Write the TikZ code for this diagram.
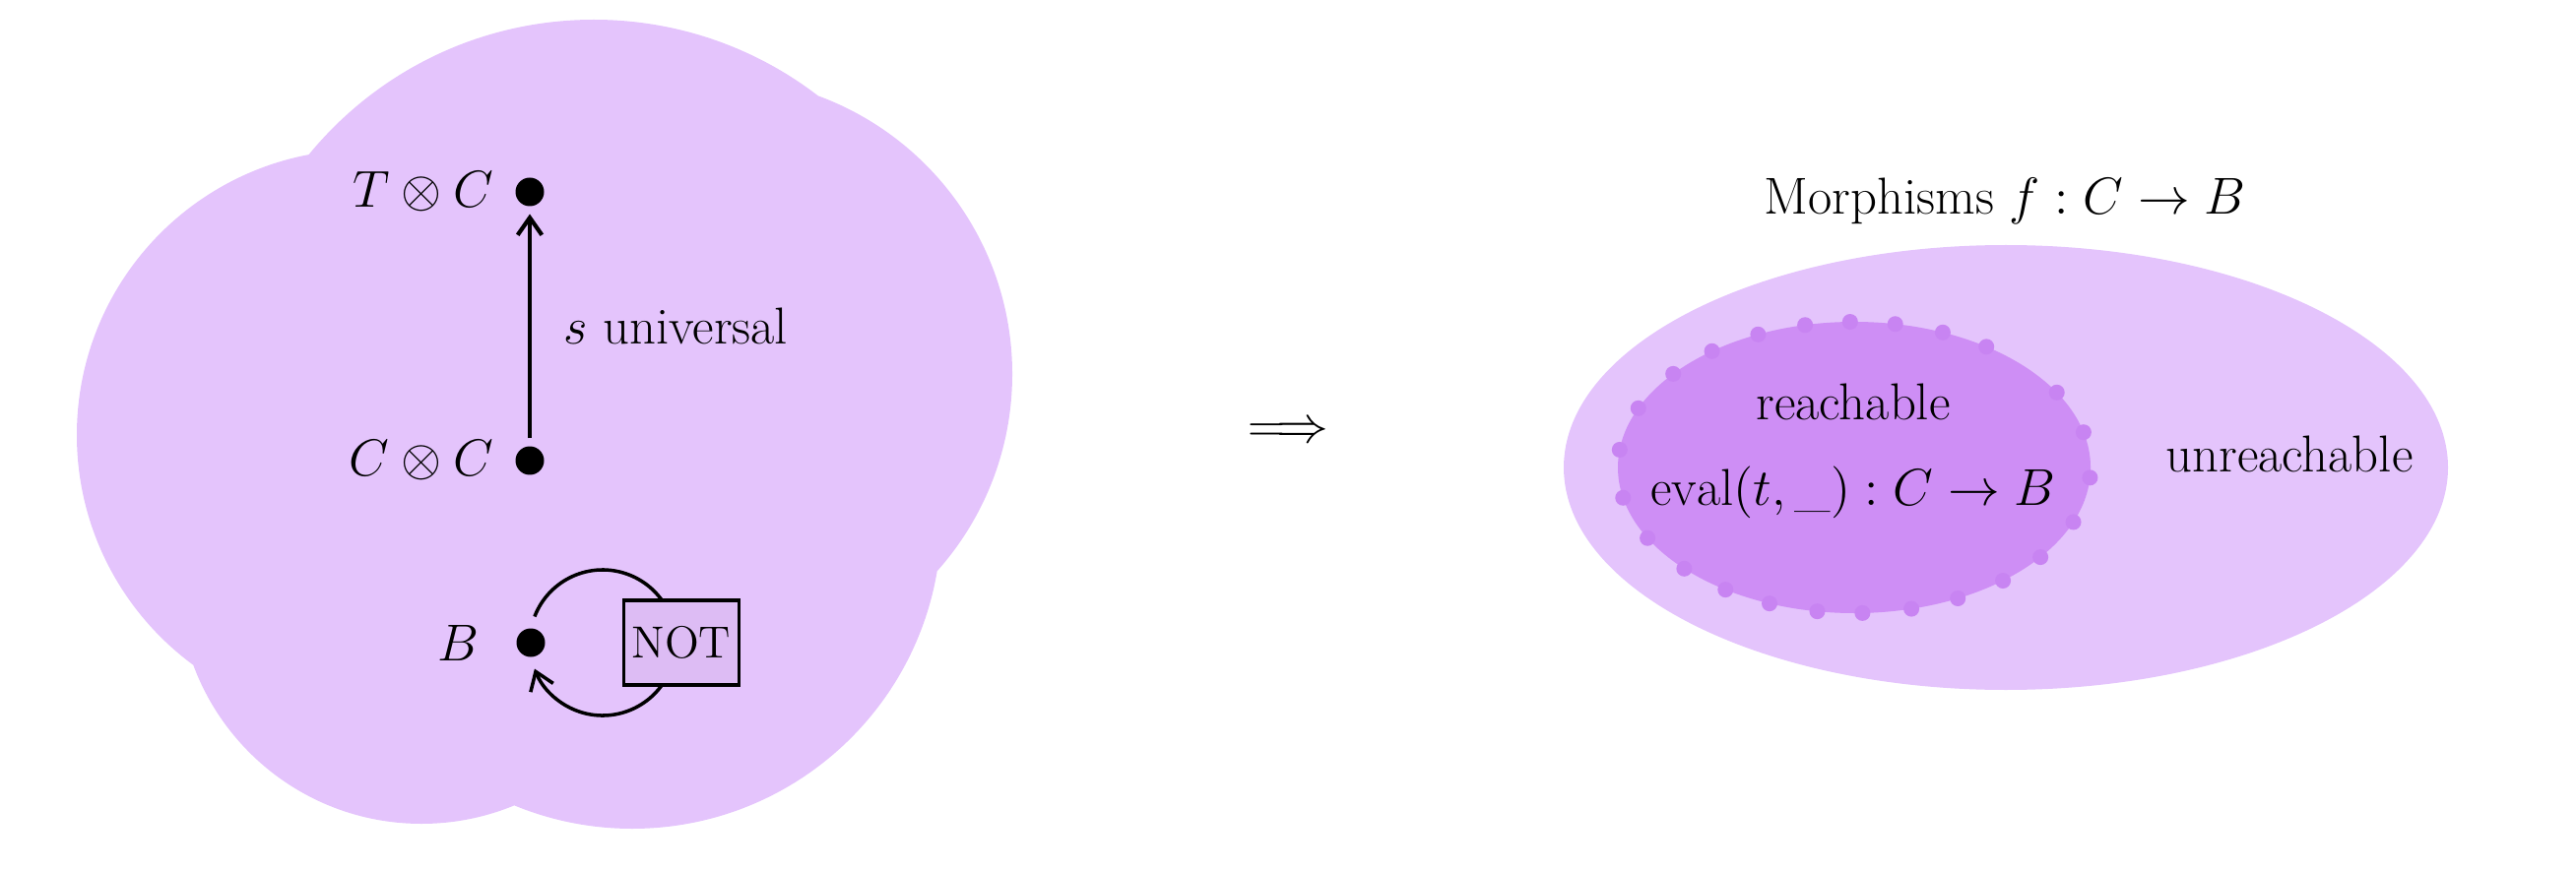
\RequirePackage{fix-cm}
\documentclass[tikz,border=0pt]{standalone}
\usepackage{amsmath,amssymb}
\usepackage{fontspec}
\usepackage{tikz}
\usetikzlibrary{arrows.meta,positioning,calc,shapes.geometric}
\definecolor{cloudlilac}{RGB}{228,196,252}
\definecolor{reachlilac}{RGB}{206,142,245}
\definecolor{beadlilac}{RGB}{200,132,242}
\definecolor{gatelilac}{RGB}{221,188,244}

\begin{document}
\begin{tikzpicture}[
    every node/.style={font=\fontsize{15}{18}\selectfont, inner sep=0pt},
    objdot/.style={circle, fill=black, minimum size=0.29cm, outer sep=0.08cm},
    gatebox/.style={rectangle, draw=black, line width=1.1pt, fill=gatelilac, minimum width=1.17cm, minimum height=0.86cm, font=\fontsize{13}{15}\selectfont},
    maparrow/.style={-{Straight Barb[length=5pt,width=7pt]}, line width=1.2pt},
    looparrow/.style={-{Straight Barb[length=5pt,width=7pt]}, line width=1pt},
    region/.style={ellipse, inner sep=0pt}
]
\useasboundingbox (0,0) rectangle (26.16,-8.84);

% the category, as a cloud of circles
\fill[cloudlilac] (3.68,-4.42) circle (2.90) (6.03,-3.94) circle (3.74) (7.27,-3.80) circle (3.01)
  (6.42,-5.28) circle (3.14) (4.28,-5.90) circle (2.47);

\node[objdot] (tcdot) at (5.38,-1.95) {};
\node[objdot] (ccdot) at (5.38,-4.68) {};
\node[objdot] (bdot) at (5.39,-6.53) {};
\node[left=0.14cm of tcdot] (tc) {$T\otimes C$};
\node[left=0.14cm of ccdot] (cc) {$C\otimes C$};
\node[left=0.29cm of bdot] (b) {$B$};

\draw[maparrow] (ccdot) -- node[right=0.32cm] (univ) {$s$ universal} (tcdot);

% loop through NOT, box drawn on top
\coordinate[right=0.73cm of bdot.center] (loopc);
\draw[looparrow] ($(loopc)+(159:0.74)$) arc[start angle=159, end angle=-159, radius=0.74];
\node[gatebox, right=0.7cm of bdot] (notgate) {NOT};

\node (implies) at (13.08,-4.40) {$\Longrightarrow$};

% morphisms C -> B
\node[region, fill=cloudlilac, minimum width=8.98cm, minimum height=4.52cm] (morph) at (20.37,-4.75) {};
\node[region, fill=reachlilac, minimum width=4.80cm, minimum height=2.96cm] (reach) at (18.83,-4.75) {};
\foreach \a in {140,127,114,102,91,80,68,56,31,14,-4,-22,-38,-51,-64,-76,-88,-99,-111,-123,-136,-151,-168,173,156}
  \fill[beadlilac] ($(reach.center)+(\a:2.40 and 1.48)$) circle (0.08);

\node (morphtitle) at (20.36,-2.04) {Morphisms $f : C \to B$};
\node (reachtext) at (18.82,-4.08) {reachable};
\node (evaltext) at (18.82,-5.00) {$\mathrm{eval}(t, \_) : C \to B$};
\node (unreach) at (23.25,-4.61) {unreachable};
\end{tikzpicture}
\end{document}
